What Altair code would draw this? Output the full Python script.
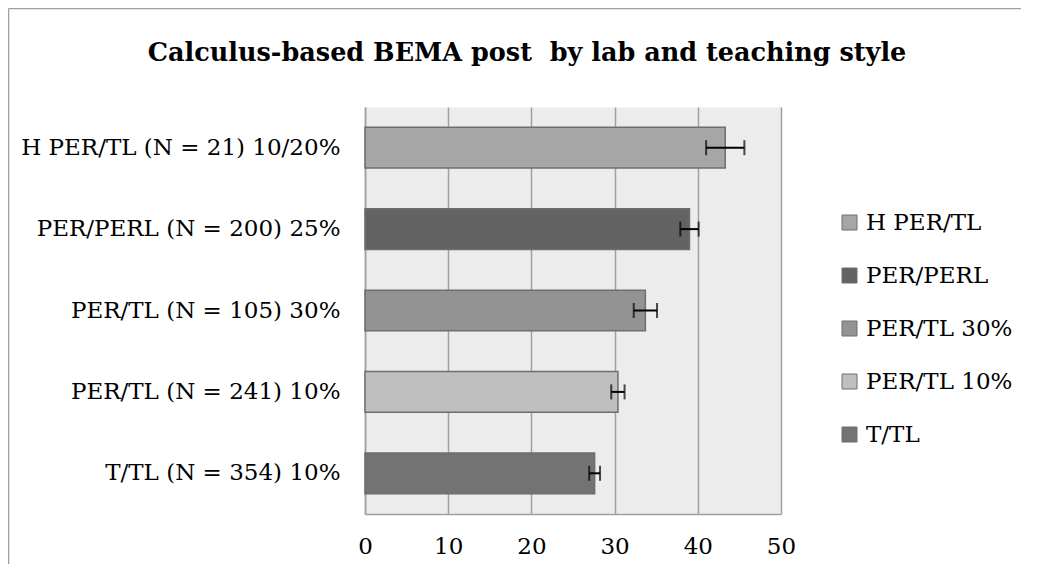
import altair as alt
import pandas as pd

categories = [
    "H PER/TL (N = 21) 10/20%",
    "PER/PERL (N = 200) 25%",
    "PER/TL (N = 105) 30%",
    "PER/TL (N = 241) 10%\u00a0",
    "T/TL (N = 354) 10%",
]
series = ["H PER/TL", "PER/PERL", "PER/TL 30%", "PER/TL 10%", "T/TL"]
means = [43.3, 39.0, 33.7, 30.4, 27.6]
errors = [2.3, 1.1, 1.4, 0.8, 0.65]
x_ticks = [0, 10, 20, 30, 40, 50]

palette = ["#a6a6a6", "#636363", "#939393", "#bfbfbf", "#737373"]
FONT = "DejaVu Serif"
FS = 23

df = pd.DataFrame({"cat": categories, "series": series, "mean": means, "err": errors})

base = alt.Chart(df).transform_calculate(
    lo="datum.mean - datum.err", hi="datum.mean + datum.err"
)

y_enc = alt.Y(
    "cat:N",
    sort=categories,
    scale=alt.Scale(paddingInner=0.5, paddingOuter=0.25),
    axis=alt.Axis(title=None, grid=False, labelPadding=25, labelLimit=500),
)
x_scale = alt.Scale(domain=[0, 50], nice=False)

bars = base.mark_bar(stroke="#6e6e6e", strokeWidth=1.5).encode(
    y=y_enc,
    x=alt.X(
        "mean:Q",
        scale=x_scale,
        axis=alt.Axis(
            title=None,
            values=x_ticks,
            grid=True,
            labelPadding=21,
            labelFlush=False,
            labelOverlap=False,
        ),
    ),
    color=alt.Color(
        "series:N",
        sort=series,
        scale=alt.Scale(domain=series, range=palette),
        legend=alt.Legend(
            title=None,
            orient="none",
            legendX=473,
            legendY=104,
            symbolType="square",
            symbolSize=225,
            symbolStrokeColor="#6e6e6e",
            symbolStrokeWidth=1,
            labelFont=FONT,
            labelFontSize=FS,
            labelColor="black",
            labelOffset=5,
            rowPadding=29,
        ),
    ),
)

err_line = base.mark_rule(color="black", strokeWidth=2).encode(
    y=alt.Y("cat:N", sort=categories), x=alt.X("lo:Q", scale=x_scale), x2="hi:Q"
)
cap_lo = base.mark_tick(color="black", thickness=2, size=15).encode(
    y=alt.Y("cat:N", sort=categories), x=alt.X("lo:Q", scale=x_scale)
)
cap_hi = base.mark_tick(color="black", thickness=2, size=15).encode(
    y=alt.Y("cat:N", sort=categories), x=alt.X("hi:Q", scale=x_scale)
)

frame_df = pd.DataFrame({"k": [0]})
frame_left = alt.Chart(frame_df).mark_rule(color="#a0a0a0", strokeWidth=1.5).encode(
    x=alt.value(-356.5), y=alt.value(-98.5), y2=alt.value(470)
)
frame_top = alt.Chart(frame_df).mark_rule(color="#a0a0a0", strokeWidth=1.5).encode(
    x=alt.value(-356.5), x2=alt.value(660), y=alt.value(-98.5)
)

chart = (
    alt.layer(frame_left, frame_top, bars, err_line, cap_lo, cap_hi)
    .properties(
        width=416,
        height=407,
        autosize="none",
        padding={"left": 357, "top": 99, "right": 240, "bottom": 50},
        title=alt.TitleParams(
            text="Calculus-based BEMA post\u00a0 by lab and teaching style",
            font=FONT,
            fontSize=25.5,
            fontWeight="bold",
            color="black",
            anchor="middle",
            frame="group",
            dx=-46,
            offset=0,
            dy=59,
        ),
    )
    .configure_view(fill="#ececec", stroke="transparent")
    .configure_axis(
        gridColor="#a0a0a0",
        gridWidth=1.5,
        domainColor="#a0a0a0",
        domainWidth=1.5,
        ticks=False,
        labelFont=FONT,
        labelFontSize=FS,
        labelColor="black",
    )
)

chart.save("out.html", embed_options={"renderer": "svg", "actions": False})
